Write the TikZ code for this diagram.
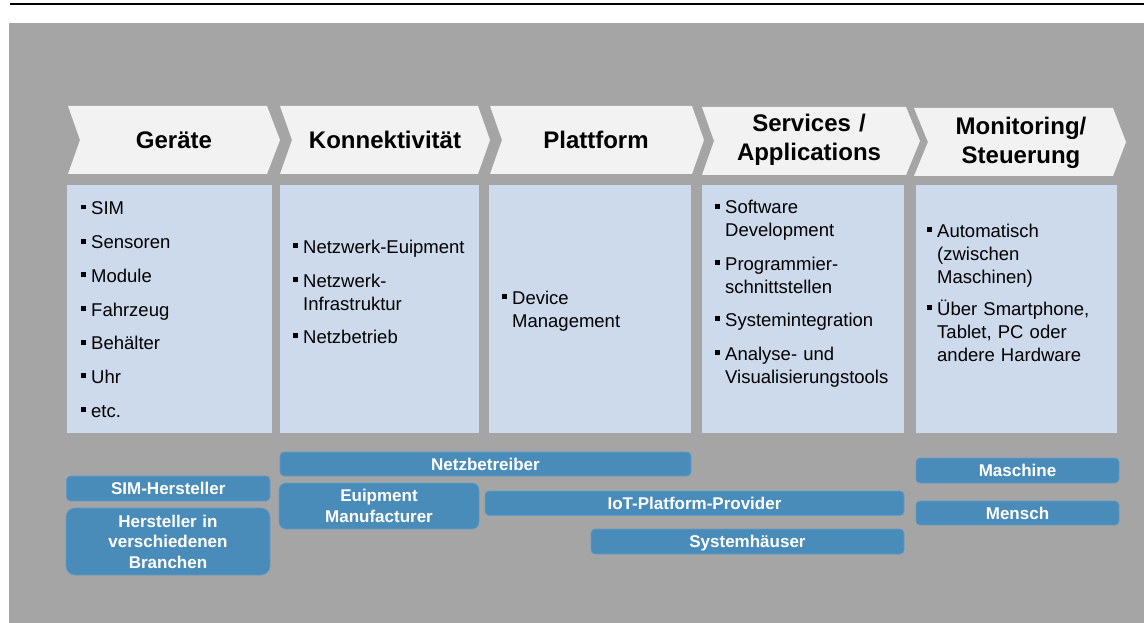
\documentclass[tikz,border=0pt]{standalone}
\usepackage{fontspec}
\setmainfont{Liberation Sans}
\definecolor{bggray}{RGB}{165,165,165}
\definecolor{chevfill}{RGB}{242,242,242}
\definecolor{panelblue}{RGB}{204,218,236}
\definecolor{barblue}{RGB}{74,140,185}
\definecolor{barline}{RGB}{98,156,197}
\newcommand{\bul}{\llap{\rule[4.8pt]{5pt}{5pt}\hspace{5.5pt}}}
\begin{document}
\begin{tikzpicture}[x=1pt,y=-1pt,
  chevron/.style={fill=chevfill},
  title/.style={font=\fontsize{24}{29}\selectfont\bfseries, text width=200pt, align=center, anchor=base, inner sep=0pt},
  panel/.style={fill=panelblue, draw=none, inner sep=0pt, anchor=north west},
  item/.style={font=\fontsize{18.5}{23}\selectfont, text width=185pt, align=left, anchor=base west, inner sep=0pt},
  bar/.style={fill=barblue, draw=barline, line width=0.6pt, rounded corners=4pt, text=white, font=\fontsize{17}{20.5}\selectfont\bfseries, inner sep=0pt, align=center},
  onebar/.style={bar, text height=12pt, text depth=0pt},
]
\useasboundingbox (0,0) rectangle (1144,623);
% top rule and background
\draw[line width=2.5pt] (10,4) -- (1144,4);
\fill[bggray] (9,23) rectangle (1144,623);

% chevrons
\fill[chevron] (68,106) -- (267,106) -- (280,140) -- (267,174) -- (68,174) -- (80,140) -- cycle;
\fill[chevron] (280,106) -- (478,106) -- (490,140) -- (478,174) -- (280,174) -- (292,140) -- cycle;
\fill[chevron] (490,106) -- (692,106) -- (704,140) -- (692,174) -- (490,174) -- (502,140) -- cycle;
\fill[chevron] (702,107) -- (906,107) -- (920,141) -- (906,175) -- (702,175) -- (714,141) -- cycle;
\fill[chevron] (914,108) -- (1113,108) -- (1126,142) -- (1113,176) -- (914,176) -- (928,142) -- cycle;

\node[title] (t1) at (174,148.5) {Geräte};
\node[title] (t2) at (385,149) {Konnektivität};
\node[title] (t3) at (596,148.5) {Plattform};
\node[title] (t4) at (809,132) {Services /\\Applications};
\node[title] (t5) at (1021,134.5) {Monitoring/\\Steuerung};

% panels
\node[panel, minimum width=205pt, minimum height=248pt] (p1) at (67,185) {};
\node[panel, minimum width=199pt, minimum height=248pt] (p2) at (280,185) {};
\node[panel, minimum width=202pt, minimum height=248pt] (p3) at (489,185) {};
\node[panel, minimum width=202pt, minimum height=248pt] (p4) at (702,185) {};
\node[panel, minimum width=201pt, minimum height=248pt] (p5) at (916,185) {};

% panel 1
\node[item] (i11) at (91,214.3) {\bul SIM};
\node[item] (i12) at (91,248.5) {\bul Sensoren};
\node[item] (i13) at (91,282) {\bul Module};
\node[item] (i14) at (91,316) {\bul Fahrzeug};
\node[item] (i15) at (91,349.5) {\bul Behälter};
\node[item] (i16) at (91,383) {\bul Uhr};
\node[item] (i17) at (91,417) {\bul etc.};
% panel 2
\node[item] (i21) at (303,253) {\bul Netzwerk-Euipment};
\node[item] (i22) at (303,287) {\bul Netzwerk-\\Infrastruktur};
\node[item] (i23) at (303,343) {\bul Netzbetrieb};
% panel 3
\node[item] (i31) at (512,304) {\bul Device\\Management};
% panel 4
\node[item] (i41) at (725,213.5) {\bul Software\\Development};
\node[item] (i42) at (725,270) {\bul Programmier-\\schnittstellen};
\node[item] (i43) at (725,326) {\bul Systemintegration};
\node[item] (i44) at (725,360) {\bul Analyse- und\\Visualisierungstools};
% panel 5
\node[item] (i51) at (937,237) {\bul Automatisch\\(zwischen\\Maschinen)};
\node[item] (i52) at (937,315) {\bul Über Smartphone,\\Tablet, PC oder\\andere Hardware};

% bottom bars
\node[onebar, minimum width=203.5pt, minimum height=25pt] (sim) at (168.25,488.5) {SIM-Hersteller};
\node[bar, rounded corners=9pt, minimum width=204pt, minimum height=67pt, text width=200pt] (herst) at (168,541.5) {Hersteller in\\verschiedenen\\Branchen};
\node[onebar, minimum width=411pt, minimum height=24pt] (netz) at (485.5,464) {Netzbetreiber};
\node[bar, rounded corners=7pt, minimum width=200pt, minimum height=46pt, text width=196pt] (euip) at (379,506) {Euipment\\Manufacturer};
\node[onebar, minimum width=419pt, minimum height=24.5pt] (iot) at (694.5,503.25) {IoT-Platform-Provider};
\node[onebar, minimum width=313pt, minimum height=25pt] (sys) at (747.5,541.5) {Systemhäuser};
\node[onebar, minimum width=203pt, minimum height=25pt] (masch) at (1017.5,470.5) {Maschine};
\node[onebar, minimum width=203pt, minimum height=24pt] (mensch) at (1017.5,513) {Mensch};
\end{tikzpicture}
\end{document}
